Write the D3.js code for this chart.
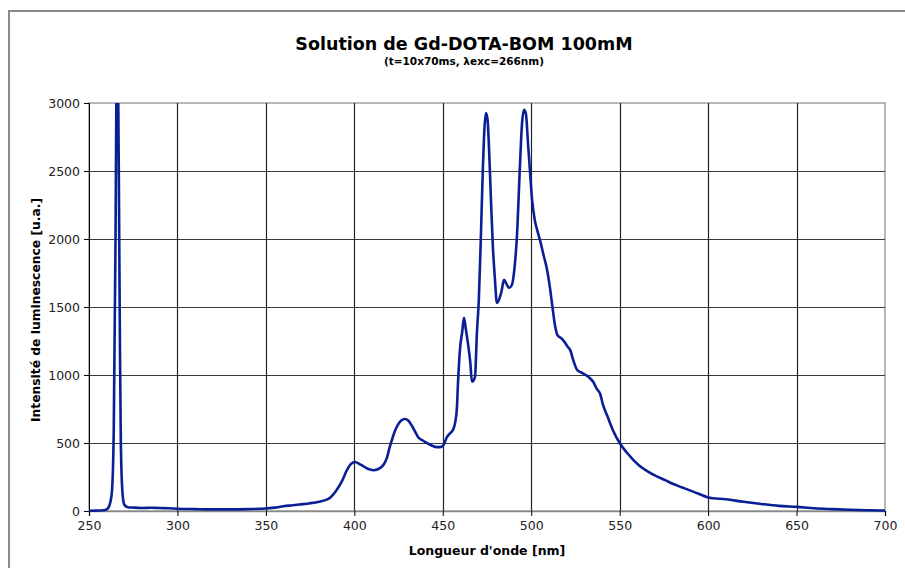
<!DOCTYPE html>
<html><head><meta charset="utf-8">
<script src="https://cdn.jsdelivr.net/npm/d3@7"></script>
<style>body{margin:0;background:#fff}svg{display:block}text{font-family:"DejaVu Sans",Verdana,sans-serif}</style>
</head><body>
<svg id="c" width="905" height="568"></svg>
<script>
const title = "Solution de Gd-DOTA-BOM 100mM";
const subtitle = "(t=10x70ms, λexc=266nm)";
const xLabel = "Longueur d'onde [nm]";
const yLabel = "Intensité de luminescence [u.a.]";
const xTicks = [250,300,350,400,450,500,550,600,650,700];
const yTicks = [0,500,1000,1500,2000,2500,3000];

const wavelength = [250,255,258,260,261,262,263,264,265,265.5,266,266.5,267,267.5,268,269,270,272,275,280,285,290,295,300,310,320,330,340,350,355,360,365,369,375,380,384,386,388,390,393,395.8,398,400.4,403,405,408.8,411,414.5,416.5,418.5,420,421.3,423,424.7,426.5,428.6,430.5,432.6,434.5,436,438.5,441,444,446.7,448.4,450,452.4,454,455.8,457,458,458.6,459.7,461,462,463,464.2,465.5,466.5,468.2,469.3,470.4,471.5,472.5,473.5,474.4,475.3,476.2,477.2,478.3,479.5,480.6,482,483.3,484.6,486,487.4,489,490.5,492,493.6,494.8,495.9,497,498.2,499.3,500.4,502,503.5,505,507,508.7,510.5,512.3,513.5,515,517,519,520.5,522,524,526,529,532,535,537,539,540.6,543,546,550,554,561,566,571,576,580,585,590,595,600,610,620,630,640,650,660,670,680,690,700];
const intensity = [2,3,5,12,25,60,150,600,2000,3100,3500,3100,2200,1200,500,120,45,28,25,22,24,22,20,17,14,12,12,14,18,25,35,42,48,57,68,82,95,120,154,220,300,345,360,345,330,305,300,315,340,395,470,525,590,635,665,676,665,625,580,545,520,500,480,470,470,478,545,570,598,650,760,940,1185,1320,1420,1340,1235,1100,950,985,1310,1560,2000,2450,2800,2926,2880,2650,2300,1950,1700,1530,1560,1620,1700,1670,1640,1660,1780,2040,2530,2850,2950,2920,2700,2500,2300,2140,2060,1990,1880,1790,1650,1470,1360,1290,1270,1240,1210,1185,1100,1037,1014,990,950,900,860,780,700,600,500,430,335,290,255,225,200,175,150,125,100,86,68,52,38,30,20,14,9,6,4,3];

const svg = d3.select("#c");
const m = {l:89, r:885, t:103, b:511};
const x = d3.scaleLinear().domain([250,700]).range([m.l, m.r]);
const y = d3.scaleLinear().domain([0,3000]).range([m.b, m.t]);

// outer frame
svg.append("rect").attr("x",9).attr("y",11).attr("width",905).attr("height",570)
  .attr("fill","none").attr("stroke","#8c8c8c").attr("stroke-width",2);

// plot border
svg.append("rect").attr("x",m.l).attr("y",m.t).attr("width",m.r-m.l).attr("height",m.b-m.t)
  .attr("fill","#fff").attr("stroke","#a0a0a0").attr("stroke-width",1.5);

// grid
svg.append("g").selectAll("line").data(yTicks.filter(d=>d>0 && d<3000)).join("line")
  .attr("x1",m.l).attr("x2",m.r).attr("y1",d=>Math.round(y(d))+0.5).attr("y2",d=>Math.round(y(d))+0.5)
  .attr("stroke","#3a3a3a").attr("stroke-width",1.2);
svg.append("g").selectAll("line").data(xTicks.filter(d=>d>250 && d<700)).join("line")
  .attr("y1",m.t).attr("y2",m.b).attr("x1",d=>Math.round(x(d))+0.5).attr("x2",d=>Math.round(x(d))+0.5)
  .attr("stroke","#222").attr("stroke-width",1.2);

// axes
const yAxis = d3.axisLeft(y).tickValues(yTicks).tickSize(5).tickPadding(4).tickFormat(d3.format("d"));
const gy = svg.append("g").attr("transform",`translate(${m.l},0)`).call(yAxis);
gy.select(".domain").attr("stroke","#000");
gy.selectAll("text").attr("font-size",12.5).attr("fill","#222").attr("font-family","DejaVu Sans, sans-serif");

const xAxis = d3.axisBottom(x).tickValues(xTicks).tickSize(5).tickPadding(5).tickFormat(d3.format("d"));
const gx = svg.append("g").attr("transform",`translate(0,${m.b})`).call(xAxis);
gx.select(".domain").attr("stroke","#888").attr("stroke-width",1.5);
gx.selectAll("text").attr("font-size",12.5).attr("fill","#222").attr("font-family","DejaVu Sans, sans-serif");

// clip
svg.append("clipPath").attr("id","clip").append("rect")
  .attr("x",m.l).attr("y",m.t).attr("width",m.r-m.l).attr("height",m.b-m.t+2);

const line = d3.line().x((d,i)=>x(wavelength[i])).y(d=>y(d)).curve(d3.curveMonotoneX);
svg.append("path").datum(intensity).attr("clip-path","url(#clip)")
  .attr("d",line).attr("fill","none").attr("stroke","#0a1e96").attr("stroke-width",2.6)
  .attr("stroke-linejoin","round");

// titles
svg.append("text").attr("x",464).attr("y",50).attr("text-anchor","middle")
  .attr("font-size",17.5).attr("font-weight","bold").attr("fill","#000").text(title);
svg.append("text").attr("x",464).attr("y",65).attr("text-anchor","middle")
  .attr("font-size",10.5).attr("font-weight","bold").attr("fill","#000").text(subtitle);
svg.append("text").attr("x",487).attr("y",555).attr("text-anchor","middle")
  .attr("font-size",12.5).attr("font-weight","bold").attr("fill","#000").text(xLabel);
svg.append("text").attr("transform","translate(40,310) rotate(-90)").attr("text-anchor","middle")
  .attr("font-size",12.3).attr("font-weight","bold").attr("fill","#000").text(yLabel);
</script>
</body></html>
